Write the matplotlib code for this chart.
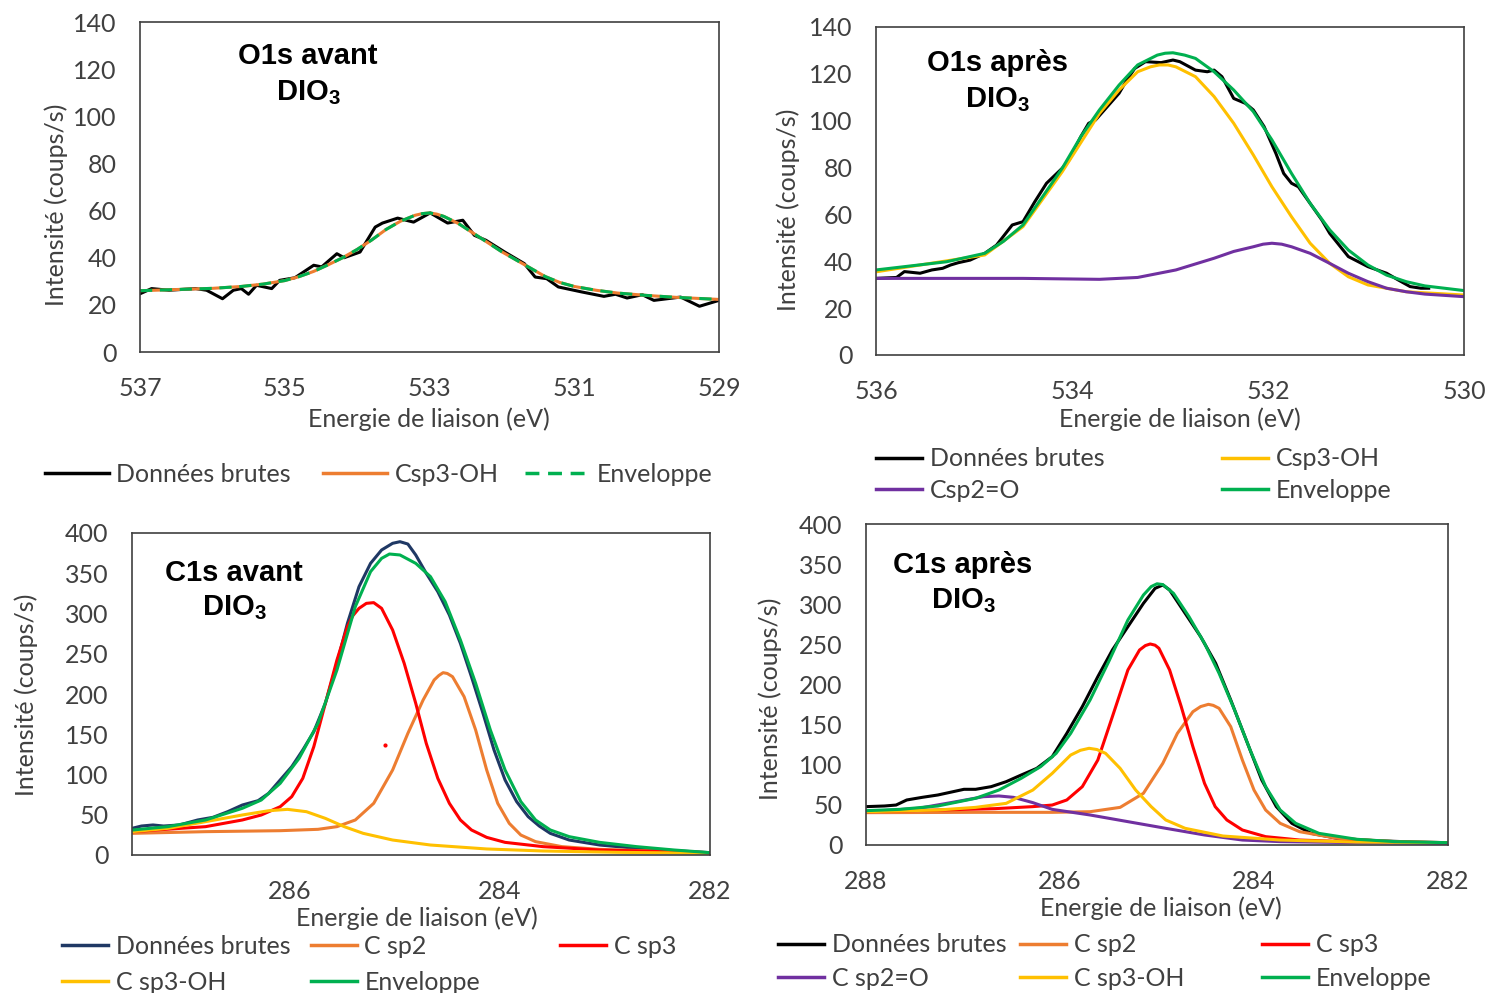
import matplotlib
matplotlib.use("Agg")
import matplotlib.pyplot as plt
from matplotlib.lines import Line2D

### Data ###

# O1s avant DIO3
o1_av_raw_ev = [537.0, 536.84, 536.6, 536.23, 536.08, 535.86, 535.71, 535.6, 535.5, 535.39,
                535.18, 535.07, 534.86, 534.6, 534.49, 534.28, 534.18, 533.96, 533.75, 533.65,
                533.44, 533.22, 532.99, 532.75, 532.54, 532.38, 532.22, 531.96, 531.69, 531.54,
                531.38, 531.22, 530.9, 530.59, 530.43, 530.27, 530.06, 529.9, 529.53, 529.27, 529.0]
o1_av_raw = [24.7, 26.9, 26.2, 26.9, 26.2, 22.6, 26.2, 26.9, 24.5, 28.3,
             26.9, 30.4, 31.5, 36.8, 36.1, 41.7, 40.0, 42.4, 53.0, 54.7,
             56.8, 55.1, 59.0, 54.7, 55.9, 49.5, 47.4, 42.4, 37.5, 31.8,
             31.1, 27.6, 25.5, 23.6, 24.5, 22.9, 24.3, 21.9, 23.3, 19.4, 21.9]
o1_av_fit_ev = [537.0, 536.5, 536.0, 535.6, 535.3, 535.0, 534.8, 534.6, 534.4, 534.2, 534.0,
                533.8, 533.6, 533.4, 533.2, 533.1, 533.0, 532.9, 532.8, 532.6, 532.4, 532.2,
                532.0, 531.8, 531.6, 531.4, 531.2, 531.0, 530.7, 530.4, 530.0, 529.6, 529.0]
o1_av_fit = [26.0, 26.5, 27.0, 27.8, 28.8, 30.3, 32.0, 34.2, 37.0, 40.0, 43.5,
             47.5, 52.0, 55.5, 58.0, 58.7, 59.0, 58.5, 57.5, 54.5, 50.5, 46.5,
             42.5, 39.0, 35.5, 32.0, 29.5, 27.8, 26.2, 25.0, 24.0, 23.2, 22.3]

# O1s apres DIO3
o1_ap_raw_ev = [536.0, 535.79, 535.71, 535.55, 535.43, 535.32, 535.24, 535.16, 535.04, 534.89,
                534.77, 534.61, 534.5, 534.38, 534.26, 534.1, 534.03, 533.91, 533.83, 533.76,
                533.64, 533.52, 533.44, 533.36, 533.25, 533.09, 532.97, 532.9, 532.74, 532.62,
                532.55, 532.47, 532.35, 532.23, 532.15, 532.04, 531.92, 531.84, 531.76, 531.69,
                531.57, 531.45, 531.37, 531.18, 530.98, 530.79, 530.67, 530.55, 530.44, 530.36]
o1_ap_raw = [32.7, 33.1, 35.6, 34.9, 36.3, 37.0, 38.4, 39.4, 40.5, 43.4,
             46.9, 55.5, 56.9, 65.4, 73.3, 79.7, 83.2, 93.2, 98.9, 100.3,
             106.0, 111.7, 117.4, 122.3, 125.2, 124.8, 125.9, 125.2, 121.6, 120.9,
             121.6, 118.8, 109.5, 107.4, 104.6, 97.5, 86.1, 77.5, 73.3, 71.8,
             64.7, 57.6, 51.9, 42.0, 37.7, 34.9, 32.0, 29.2, 28.5, 28.5]
o1_ap_env_ev = [536.0, 535.28, 534.89, 534.7, 534.5, 534.3, 534.1, 533.91, 533.72, 533.52,
                533.33, 533.13, 533.05, 532.97, 532.85, 532.74, 532.55, 532.35, 532.15, 531.96,
                531.76, 531.57, 531.37, 531.18, 530.98, 530.79, 530.59, 530.4, 530.0]
o1_ap_env = [36.3, 39.8, 43.4, 48.5, 55.5, 67.6, 79.7, 93.2, 104.6, 115.2,
             123.8, 128.0, 128.8, 129.0, 128.0, 126.6, 120.9, 113.1, 103.9, 91.8,
             77.5, 64.7, 53.4, 44.8, 38.4, 34.1, 31.3, 29.5, 27.5]
o1_ap_oh_ev = [536.0, 534.89, 534.5, 534.1, 533.72, 533.52, 533.33, 533.2, 533.11, 533.02,
               532.94, 532.74, 532.55, 532.35, 532.15, 531.96, 531.76, 531.57, 531.37, 531.18,
               530.98, 530.59, 530.0]
o1_ap_oh = [35.5, 42.7, 54.8, 78.2, 103.1, 113.1, 120.9, 123.0, 123.8, 123.8,
            123.0, 118.8, 110.3, 98.9, 85.4, 71.8, 59.0, 47.7, 39.1, 33.4,
            29.9, 27.0, 25.6]
o1_ap_co_ev = [536.0, 534.5, 533.72, 533.33, 532.94, 532.55, 532.35, 532.15, 532.05, 531.96,
               531.86, 531.76, 531.57, 531.37, 531.18, 530.98, 530.79, 530.59, 530.4, 530.0]
o1_ap_co = [32.7, 32.7, 32.3, 33.1, 36.3, 41.3, 44.2, 46.2, 47.3, 47.7,
            47.3, 46.2, 43.4, 39.1, 34.9, 31.3, 28.5, 27.0, 26.0, 24.9]

# C1s avant DIO3
c1_av_raw_ev = [287.5, 287.41, 287.30, 287.20, 287.05, 286.875, 286.73, 286.59, 286.45, 286.30,
                286.20, 286.09, 285.98, 285.875, 285.77, 285.66, 285.55, 285.45, 285.34, 285.23,
                285.125, 285.02, 284.95, 284.875, 284.80, 284.70, 284.59, 284.48, 284.375, 284.27,
                284.16, 284.055, 283.95, 283.84, 283.73, 283.625, 283.52, 283.34, 283.05, 282.70,
                282.34, 282.0]
c1_av_raw = [33.1, 36.0, 37.3, 36.0, 37.3, 43.5, 46.8, 53.8, 62.1, 67.5,
             76.6, 93.2, 109.7, 130.4, 153.2, 188.4, 238.1, 287.8, 333.3, 362.3,
             378.9, 387.2, 389.2, 386.3, 372.7, 349.9, 327.1, 298.1, 262.9, 221.5,
             176.0, 130.4, 93.2, 66.3, 47.6, 36.0, 26.9, 18.6, 12.4, 8.3,
             5.4, 2.9]
c1_av_env_ev = [287.5, 287.16, 286.80, 286.45, 286.27, 286.09, 285.91, 285.73, 285.55, 285.375,
                285.23, 285.125, 285.05, 284.95, 284.80, 284.66, 284.52, 284.375, 284.23, 284.09,
                283.95, 283.80, 283.66, 283.52, 283.34, 283.05, 282.70, 282.34, 282.0]
c1_av_env = [31.0, 35.2, 43.5, 58.0, 68.3, 89.0, 120.1, 163.6, 229.8, 308.5,
             352.0, 368.5, 373.9, 372.7, 362.3, 345.8, 314.7, 267.1, 213.3, 155.3,
             105.6, 66.3, 43.5, 31.1, 22.8, 15.7, 10.4, 6.2, 2.9]
c1_av_sp3_ev = [287.5, 286.80, 286.45, 286.27, 286.09, 285.98, 285.875, 285.77, 285.66, 285.55,
                285.45, 285.40, 285.34, 285.27, 285.20, 285.125, 285.02, 284.91, 284.80, 284.70,
                284.59, 284.48, 284.375, 284.27, 284.125, 283.95, 283.59, 283.05, 282.0]
c1_av_sp3 = [29.0, 35.2, 43.5, 49.7, 60.0, 72.5, 95.2, 134.6, 188.4, 242.2,
             283.6, 297.0, 306.4, 312.6, 313.5, 306.4, 279.5, 238.1, 188.4, 138.7,
             95.2, 64.2, 43.5, 31.1, 21.9, 15.7, 10.4, 6.2, 2.9]
c1_av_sp2_ev = [287.5, 286.80, 286.09, 285.73, 285.55, 285.375, 285.20, 285.02, 284.875, 284.73,
                284.625, 284.58, 284.54, 284.50, 284.45, 284.34, 284.23, 284.125, 284.02, 283.91,
                283.80, 283.66, 283.41, 283.05, 282.0]
c1_av_sp2 = [26.9, 29.0, 30.2, 31.9, 35.2, 43.5, 64.2, 105.6, 151.1, 192.5,
             217.4, 223.0, 226.5, 225.5, 221.5, 196.7, 155.3, 105.6, 64.2, 39.3,
             24.8, 16.6, 10.4, 7.0, 2.9]
c1_av_oh_ev = [287.5, 287.16, 286.80, 286.45, 286.20, 286.02, 285.84, 285.66, 285.48, 285.30,
               285.02, 284.66, 284.125, 283.59, 282.875, 282.0]
c1_av_oh = [29.0, 33.1, 41.4, 49.7, 55.0, 56.7, 53.8, 45.5, 35.2, 26.9,
            18.6, 12.4, 7.5, 5.0, 3.3, 2.1]
c1_av_dot_ev = [285.09]   # stray red dot in the original
c1_av_dot = [136.6]

# C1s apres DIO3
c1_ap_raw_ev = [288.0, 287.81, 287.69, 287.58, 287.42, 287.26, 287.10, 286.99, 286.87, 286.71,
                286.555, 286.40, 286.24, 286.08, 285.93, 285.77, 285.61, 285.46, 285.30, 285.14,
                285.02, 284.94, 284.87, 284.71, 284.55, 284.395, 284.24, 284.08, 283.92, 283.77,
                283.61, 283.41, 283.14, 282.75, 282.35, 282.0]
c1_ap_raw = [47.8, 48.6, 49.8, 56.1, 59.4, 62.3, 66.5, 69.4, 69.4, 72.7,
             78.9, 87.2, 95.5, 110.1, 139.1, 172.4, 209.8, 243.0, 272.1, 301.1,
             319.8, 324.0, 317.8, 288.7, 259.6, 226.4, 180.7, 130.8, 81.0, 47.8,
             27.0, 14.5, 8.3, 5.4, 3.7, 2.9]
c1_ap_env_ev = [288.0, 287.65, 287.26, 286.87, 286.63, 286.40, 286.20, 286.04, 285.89, 285.69,
                285.49, 285.30, 285.14, 285.06, 285.0, 284.94, 284.83, 284.67, 284.51, 284.36,
                284.20, 284.04, 283.88, 283.73, 283.57, 283.33, 282.94, 282.55, 282.0]
c1_ap_env = [42.8, 44.4, 48.6, 58.2, 68.5, 83.1, 97.6, 114.2, 139.1, 180.7,
             230.5, 280.4, 311.5, 322.0, 325.5, 324.5, 313.6, 284.5, 251.3, 213.9,
             168.2, 118.4, 72.7, 43.6, 27.0, 14.5, 7.1, 4.2, 2.9]
c1_ap_sp3_ev = [288.0, 287.26, 286.67, 286.28, 286.08, 285.93, 285.77, 285.61, 285.46, 285.30,
                285.18, 285.12, 285.07, 285.02, 284.98, 284.87, 284.75, 284.63, 284.51, 284.40,
                284.28, 284.12, 283.88, 283.53, 282.94, 282.0]
c1_ap_sp3 = [41.5, 43.6, 45.3, 47.8, 49.8, 56.1, 72.7, 105.9, 159.9, 218.1,
             243.0, 248.5, 250.5, 249.0, 245.1, 218.1, 172.4, 122.5, 76.8, 47.8,
             31.2, 18.7, 10.4, 6.2, 3.7, 2.9]
c1_ap_sp2_ev = [288.0, 286.87, 286.08, 285.69, 285.38, 285.14, 284.94, 284.79, 284.63, 284.55,
                284.47, 284.42, 284.36, 284.24, 284.12, 284.00, 283.88, 283.73, 283.53, 283.14,
                282.55, 282.0]
c1_ap_sp2 = [40.3, 40.7, 40.7, 41.5, 46.9, 64.4, 101.8, 139.1, 166.1, 172.5,
             175.3, 174.0, 170.3, 147.5, 105.9, 68.5, 43.6, 27.0, 16.6, 8.3,
             4.2, 2.9]
c1_ap_oh_ev = [288.0, 287.26, 286.87, 286.555, 286.28, 286.08, 285.89, 285.79, 285.70, 285.62,
               285.53, 285.38, 285.22, 285.06, 284.91, 284.71, 284.32, 283.73, 282.94, 282.0]
c1_ap_oh = [41.5, 43.6, 46.9, 51.9, 68.5, 89.3, 112.1, 118.0, 120.5, 119.0,
            114.2, 95.5, 68.5, 47.8, 31.2, 20.8, 11.2, 6.2, 3.7, 2.9]
c1_ap_co_ev = [288.0, 287.46, 287.07, 286.79, 286.63, 286.48, 286.28, 286.08, 285.69, 285.30,
               284.91, 284.51, 284.12, 283.73, 282.94, 282.0]
c1_ap_co = [41.5, 45.7, 54.0, 60.2, 61.1, 59.4, 52.8, 44.4, 37.4, 29.1,
            20.8, 12.5, 6.2, 4.2, 2.9, 2.1]

### Style ###
BLACK = '#000000'
ORANGE = '#ED7D31'
GREEN = '#00B050'
YELLOW = '#FFC000'
PURPLE = '#7030A0'
RED = '#FF0000'
NAVY = '#1F3864'
GREY = '#404040'
LW = 2.2
DASH = (0, (4, 2.5))
FS = 18

W, H = 1487, 993
plt.rcParams['font.family'] = ['Lato', 'DejaVu Sans']
plt.rcParams['mathtext.fontset'] = 'custom'
plt.rcParams['mathtext.rm'] = 'Liberation Sans:bold'
plt.rcParams['mathtext.it'] = 'Liberation Sans:bold'
plt.rcParams['mathtext.bf'] = 'Liberation Sans:bold'

fig = plt.figure(figsize=(W / 100, H / 100), dpi=100)
fig.patch.set_facecolor('white')


def px_rect(x0, y0, x1, y1):
    # pixel box (top-left origin) -> figure fraction rect
    return [x0 / W, 1 - y1 / H, (x1 - x0) / W, (y1 - y0) / H]


def setup_axes(box, xlim, xticks, ylim, yticks, xlab_pos, ylab_pos):
    ax = fig.add_axes(px_rect(*box))
    ax.set_xlim(*xlim)
    ax.set_ylim(*ylim)
    ax.set_xticks(xticks)
    ax.set_yticks(yticks)
    ax.tick_params(length=0, labelsize=FS, labelcolor=GREY)
    ax.tick_params(axis='x', pad=18)
    ax.tick_params(axis='y', pad=17)
    for s in ax.spines.values():
        s.set_color(GREY)
        s.set_linewidth(1.2)
    ax.set_xlabel('Energie de liaison (eV)', fontsize=FS, color=GREY, va='center')
    ax.xaxis.set_label_coords(*xlab_pos)
    ax.set_ylabel('Intensité (coups/s)', fontsize=FS, color=GREY, va='center')
    ax.yaxis.set_label_coords(*ylab_pos)
    return ax


def legend_entry(x, y, label, color, length, ls='-'):
    h = Line2D([], [], color=color, lw=LW + 0.3, ls=ls)
    leg = fig.legend([h], [label], loc='center left', bbox_to_anchor=(x / W, 1 - y / H),
                     frameon=False, borderpad=0, borderaxespad=0,
                     handlelength=length / (FS * 100 / 72), handletextpad=0.3, fontsize=FS)
    for t in leg.get_texts():
        t.set_color(GREY)


def panel_title(x, y1, y2, line1):
    fam = ['Liberation Sans', 'DejaVu Sans']
    fig.text(x / W, 1 - y1 / H, line1, ha='center', va='center', fontsize=21,
             fontweight='bold', family=fam)
    fig.text(x / W, 1 - y2 / H, r'DIO$_3$', ha='center', va='center', fontsize=21,
             fontweight='bold', family=fam)


### Panel 1: O1s avant ###
ax1 = setup_axes((140, 22, 719, 352), (537, 529), [537, 535, 533, 531, 529],
                 (0, 140), range(0, 141, 20), (0.499, -0.203), (-0.145, 0.445))
ax1.plot(o1_av_raw_ev, o1_av_raw, color=BLACK, lw=LW)
ax1.plot(o1_av_fit_ev, o1_av_fit, color=ORANGE, lw=LW)
ax1.plot(o1_av_fit_ev, o1_av_fit, color=GREEN, lw=LW, ls=DASH)
panel_title(308, 56, 93, 'O1s avant')
legend_entry(45, 474, 'Données brutes', BLACK, 64)
legend_entry(323, 474, 'Csp3-OH', ORANGE, 64)
legend_entry(525, 474, 'Enveloppe', GREEN, 64, ls=DASH)

### Panel 2: O1s apres ###
ax2 = setup_axes((876, 27, 1464, 355), (536, 530), [536, 534, 532, 530],
                 (0, 140), range(0, 141, 20), (0.517, -0.195), (-0.150, 0.442))
ax2.plot(o1_ap_raw_ev, o1_ap_raw, color=BLACK, lw=LW)
ax2.plot(o1_ap_oh_ev, o1_ap_oh, color=YELLOW, lw=LW)
ax2.plot(o1_ap_co_ev, o1_ap_co, color=PURPLE, lw=LW)
ax2.plot(o1_ap_env_ev, o1_ap_env, color=GREEN, lw=LW)
panel_title(997, 63, 100, 'O1s après')
legend_entry(876, 459, 'Données brutes', BLACK, 46)
legend_entry(1222, 459, 'Csp3-OH', YELLOW, 46)
legend_entry(876, 490, 'Csp2=O', PURPLE, 46)
legend_entry(1222, 490, 'Enveloppe', GREEN, 46)

### Panel 3: C1s avant ###
ax3 = setup_axes((132, 533, 710, 855), (287.5, 282), [286, 284, 282],
                 (0, 400), range(0, 401, 50), (0.493, -0.196), (-0.183, 0.497))
ax3.plot(c1_av_raw_ev, c1_av_raw, color=NAVY, lw=LW)
ax3.plot(c1_av_sp2_ev, c1_av_sp2, color=ORANGE, lw=LW)
ax3.plot(c1_av_sp3_ev, c1_av_sp3, color=RED, lw=LW)
ax3.plot(c1_av_oh_ev, c1_av_oh, color=YELLOW, lw=LW)
ax3.plot(c1_av_env_ev, c1_av_env, color=GREEN, lw=LW)
ax3.plot(c1_av_dot_ev, c1_av_dot, 'o', color=RED, ms=2)
panel_title(234, 573, 608, 'C1s avant')
legend_entry(62, 946, 'Données brutes', NAVY, 46)
legend_entry(311, 946, 'C sp2', ORANGE, 46)
legend_entry(560, 946, 'C sp3', RED, 46)
legend_entry(62, 982, 'C sp3-OH', YELLOW, 46)
legend_entry(311, 982, 'Enveloppe', GREEN, 46)

### Panel 4: C1s apres ###
ax4 = setup_axes((866, 524, 1448, 845), (288, 282), [288, 286, 284, 282],
                 (0, 400), range(0, 401, 50), (0.507, -0.196), (-0.165, 0.455))
ax4.plot(c1_ap_raw_ev, c1_ap_raw, color=BLACK, lw=LW)
ax4.plot(c1_ap_sp2_ev, c1_ap_sp2, color=ORANGE, lw=LW)
ax4.plot(c1_ap_sp3_ev, c1_ap_sp3, color=RED, lw=LW)
ax4.plot(c1_ap_co_ev, c1_ap_co, color=PURPLE, lw=LW)
ax4.plot(c1_ap_oh_ev, c1_ap_oh, color=YELLOW, lw=LW)
ax4.plot(c1_ap_env_ev, c1_ap_env, color=GREEN, lw=LW)
panel_title(963, 565, 601, 'C1s après')
legend_entry(778, 945, 'Données brutes', BLACK, 46)
legend_entry(1020, 945, 'C sp2', ORANGE, 46)
legend_entry(1262, 945, 'C sp3', RED, 46)
legend_entry(778, 978, 'C sp2=O', PURPLE, 46)
legend_entry(1020, 978, 'C sp3-OH', YELLOW, 46)
legend_entry(1262, 978, 'Enveloppe', GREEN, 46)

fig.savefig('out.png', dpi=100, facecolor='white')
